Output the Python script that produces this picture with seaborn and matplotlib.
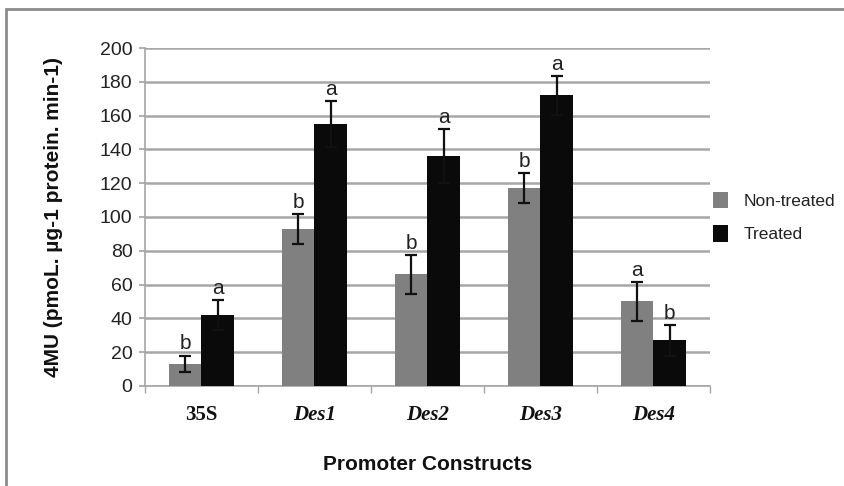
import matplotlib
matplotlib.use("Agg")
import matplotlib.pyplot as plt
import seaborn as sns
import pandas as pd
import numpy as np
from matplotlib.patches import Rectangle

constructs = ["35S", "Des1", "Des2", "Des3", "Des4"]
treatments = ["Non-treated", "Treated"]
non_treated = [13, 93, 66, 117, 50]
treated = [42, 155, 136, 172, 27]
err_non = [5, 9, 11.5, 9, 11.5]
err_treated = [9, 13.5, 16, 11.5, 9]
letters_non = ["b", "b", "b", "b", "a"]
letters_treated = ["a", "a", "a", "a", "b"]
yticks = [0, 20, 40, 60, 80, 100, 120, 140, 160, 180, 200]

df = pd.DataFrame({
    "Construct": constructs * 2,
    "Treatment": [treatments[0]] * 5 + [treatments[1]] * 5,
    "Value": non_treated + treated,
    "Err": err_non + err_treated,
    "Letter": letters_non + letters_treated,
})

sns.set_theme(style="white")
plt.rcParams["font.family"] = ["Liberation Sans", "DejaVu Sans"]

fig = plt.figure(figsize=(8.45, 4.86), dpi=100)
ax = fig.add_axes([0.1716, 0.2058, 0.840 - 0.1716, 0.9012 - 0.2058])

# outer frame
fig.patches.append(Rectangle((6 / 845, -0.2), 1.2, 0.2 + 1 - 9 / 486, transform=fig.transFigure,
                             fill=False, edgecolor="#8c8c8c", linewidth=2, zorder=0))

palette = {"Non-treated": "#808080", "Treated": "#0a0a0a"}
sns.barplot(data=df, x="Construct", y="Value", hue="Treatment", order=constructs,
            hue_order=treatments, palette=palette, errorbar=None, width=0.58,
            saturation=1, ax=ax, zorder=3, legend=True, edgecolor="none", linewidth=0)

for i, t in enumerate(treatments):
    sub = df[df["Treatment"] == t].set_index("Construct").loc[constructs]
    for j, c in enumerate(constructs):
        p = ax.containers[i][j]
        xc = p.get_x() + p.get_width() / 2
        v = sub.loc[c, "Value"]
        e = sub.loc[c, "Err"]
        ax.errorbar(xc, v, yerr=e, fmt="none", ecolor="#111111", elinewidth=1.6,
                    capsize=4.5, capthick=1.6, zorder=4)
        ax.annotate(sub.loc[c, "Letter"], (xc, v + e), xytext=(0, 1.5),
                    textcoords="offset points", ha="center", va="bottom",
                    fontsize=15, color="#222222", zorder=5)

ax.set_ylim(0, 200)
ax.set_yticks(yticks)
ax.set_xlim(-0.5, len(constructs) - 0.5)
ax.yaxis.grid(True, color="#a6a6a6", linewidth=1.8, zorder=0)
ax.xaxis.grid(False)
ax.set_axisbelow(True)

for s in ["top", "right"]:
    ax.spines[s].set_visible(False)
for s in ["left", "bottom"]:
    ax.spines[s].set_color("#a6a6a6")
    ax.spines[s].set_linewidth(1.2)

ax.tick_params(axis="y", which="both", left=True, length=4, color="#a6a6a6",
               labelsize=14, labelcolor="#222222", pad=5)
ax.set_xticks(np.arange(len(constructs)))
ax.set_xticklabels([])
ax.set_xticks(np.arange(len(constructs) + 1) - 0.5, minor=True)
ax.tick_params(axis="x", which="major", length=0, pad=10)
ax.tick_params(axis="x", which="minor", bottom=True, length=5, color="#a6a6a6")
for j, c in enumerate(constructs):
    style = "normal" if c == "35S" else "italic"
    ax.text(j, -0.055, c, transform=ax.get_xaxis_transform(), ha="center", va="top",
            fontsize=15, fontweight="bold", fontstyle=style,
            family=["Liberation Serif", "DejaVu Serif"], color="#111111")

ax.set_xlabel("Promoter Constructs", fontsize=15, fontweight="bold", color="#111111")
ax.xaxis.set_label_coords(0.5, -0.205)
ax.set_ylabel("4MU (pmoL. µg-1 protein. min-1)", fontsize=15, fontweight="bold",
              color="#111111")
ax.yaxis.set_label_coords(-0.145, 0.5)

leg = ax.legend(loc="center left", bbox_to_anchor=(1.0, 0.5), frameon=False,
                fontsize=12.5, handlelength=0.85, handleheight=1.1, handletextpad=0.9,
                labelspacing=0.95, title=None, borderaxespad=0.0, borderpad=0.2)
for t in leg.get_texts():
    t.set_color("#222222")

fig.savefig("out.png", dpi=100)
